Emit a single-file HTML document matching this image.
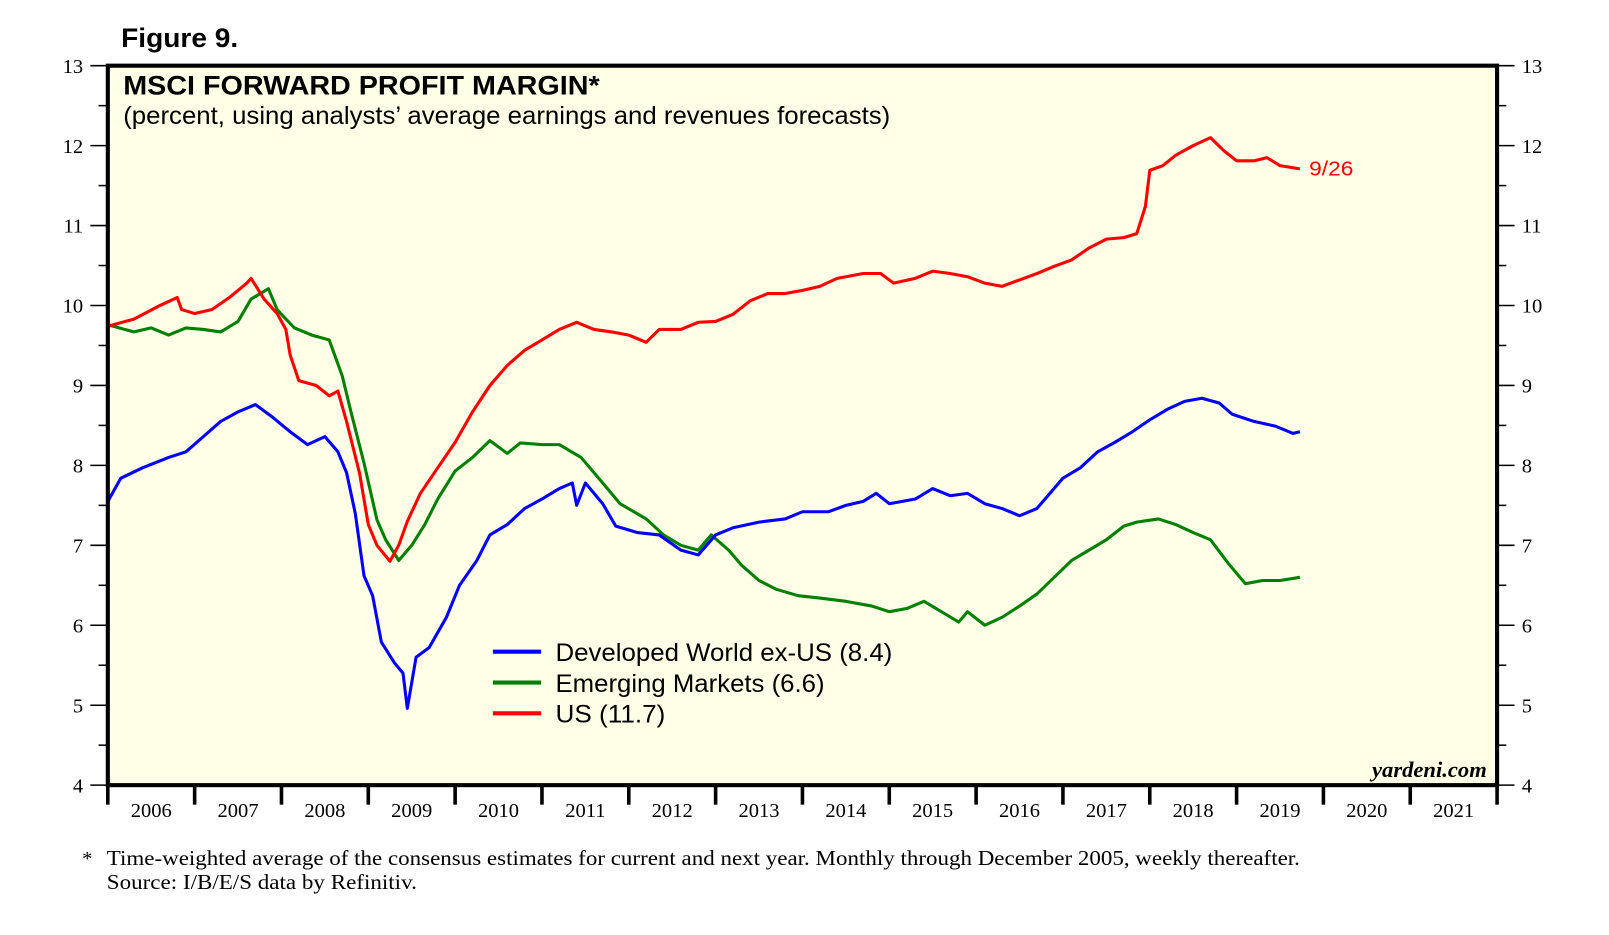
<!DOCTYPE html>
<html><head><meta charset="utf-8"><style>
html,body{margin:0;padding:0;background:#fff;}
svg{display:block;}
</style></head><body>
<svg id="chart" width="1609" height="935" viewBox="0 0 1567 911" preserveAspectRatio="none" xmlns="http://www.w3.org/2000/svg">
<text x="118" y="46" font-family="Liberation Sans, sans-serif" font-weight="bold" font-size="26" textLength="114" lengthAdjust="spacingAndGlyphs">Figure 9.</text>
<rect x="105" y="64" width="1353" height="701" fill="#fffee6"/>
<g id="axes"></g>
<g id="series"></g>
<rect x="105" y="64" width="1353" height="701" fill="none" stroke="#000" stroke-width="4"/>
<text x="120" y="92" font-family="Liberation Sans, sans-serif" font-weight="bold" font-size="26" textLength="464" lengthAdjust="spacingAndGlyphs">MSCI FORWARD PROFIT MARGIN*</text>
<text x="120" y="121" font-family="Liberation Sans, sans-serif" font-size="24" textLength="747" lengthAdjust="spacingAndGlyphs">(percent, using analysts’ average earnings and revenues forecasts)</text>
<text x="1275" y="171" fill="#ff0000" font-family="Liberation Sans, sans-serif" font-size="20" textLength="43" lengthAdjust="spacingAndGlyphs">9/26</text>
<g font-family="Liberation Sans, sans-serif" font-size="24">
<line x1="480" y1="635" x2="527" y2="635" stroke="#0000ff" stroke-width="4"/>
<text x="541" y="644" textLength="328" lengthAdjust="spacingAndGlyphs">Developed World ex-US (8.4)</text>
<line x1="480" y1="665" x2="527" y2="665" stroke="#008000" stroke-width="4"/>
<text x="541" y="674" textLength="262" lengthAdjust="spacingAndGlyphs">Emerging Markets (6.6)</text>
<line x1="480" y1="695" x2="527" y2="695" stroke="#ff0000" stroke-width="4"/>
<text x="541" y="704" textLength="107" lengthAdjust="spacingAndGlyphs">US (11.7)</text>
</g>
<text x="1448" y="757" text-anchor="end" font-family="Liberation Serif, serif" font-style="italic" font-weight="bold" font-size="22">yardeni.com</text>
<text x="80" y="843" font-family="Liberation Serif, serif" font-size="20">*</text>
<text x="104" y="843" font-family="Liberation Serif, serif" font-size="21" textLength="1162" lengthAdjust="spacingAndGlyphs">Time-weighted average of the consensus estimates for current and next year. Monthly through December 2005, weekly thereafter.</text>
<text x="104" y="866" font-family="Liberation Serif, serif" font-size="21" textLength="302" lengthAdjust="spacingAndGlyphs">Source: I/B/E/S data by Refinitiv.</text>
</svg>
<script>
const yTicks = [4,5,6,7,8,9,10,11,12,13];
const years = [2006,2007,2008,2009,2010,2011,2012,2013,2014,2015,2016,2017,2018,2019,2020,2021];
const usT = [2006.0,2006.3,2006.6,2006.8,2006.85,2007.0,2007.2,2007.4,2007.6,2007.65,2007.8,2007.95,2008.05,2008.1,2008.2,2008.4,2008.55,2008.65,2008.75,2008.9,2009.0,2009.1,2009.25,2009.35,2009.45,2009.6,2009.8,2010.0,2010.2,2010.4,2010.6,2010.8,2011.0,2011.2,2011.4,2011.6,2011.8,2012.0,2012.2,2012.35,2012.6,2012.8,2013.0,2013.2,2013.4,2013.6,2013.8,2014.0,2014.2,2014.4,2014.7,2014.9,2015.05,2015.3,2015.5,2015.7,2015.9,2016.1,2016.3,2016.5,2016.7,2016.9,2017.1,2017.3,2017.5,2017.7,2017.85,2017.95,2018.0,2018.15,2018.3,2018.5,2018.7,2018.85,2019.0,2019.2,2019.35,2019.5,2019.73];
const usV = [9.74,9.83,10.0,10.1,9.95,9.9,9.95,10.1,10.28,10.34,10.08,9.9,9.7,9.38,9.06,9.0,8.87,8.93,8.55,7.9,7.26,7.0,6.8,7.0,7.3,7.65,7.97,8.29,8.67,9.0,9.25,9.44,9.57,9.7,9.79,9.7,9.67,9.63,9.54,9.7,9.7,9.79,9.8,9.89,10.06,10.15,10.15,10.19,10.24,10.34,10.4,10.4,10.28,10.34,10.43,10.4,10.36,10.28,10.24,10.32,10.4,10.49,10.57,10.72,10.83,10.85,10.9,11.24,11.69,11.75,11.88,12.0,12.1,11.94,11.81,11.81,11.85,11.75,11.71];
const emT = [2006.0,2006.3,2006.5,2006.7,2006.9,2007.1,2007.3,2007.5,2007.65,2007.85,2007.95,2008.05,2008.15,2008.35,2008.55,2008.7,2008.8,2008.95,2009.1,2009.2,2009.35,2009.5,2009.65,2009.8,2010.0,2010.2,2010.4,2010.6,2010.75,2011.0,2011.2,2011.45,2011.7,2011.9,2012.2,2012.4,2012.6,2012.8,2012.95,2013.15,2013.3,2013.5,2013.7,2013.95,2014.2,2014.5,2014.8,2015.0,2015.2,2015.4,2015.6,2015.8,2015.9,2016.1,2016.3,2016.5,2016.7,2016.9,2017.1,2017.3,2017.5,2017.7,2017.85,2018.1,2018.3,2018.5,2018.7,2018.9,2019.1,2019.3,2019.5,2019.73];
const emV = [9.76,9.67,9.72,9.63,9.72,9.7,9.67,9.8,10.08,10.21,9.95,9.83,9.72,9.63,9.57,9.12,8.67,8.03,7.32,7.07,6.81,7.0,7.26,7.58,7.93,8.1,8.31,8.15,8.28,8.26,8.26,8.1,7.78,7.52,7.33,7.13,7.0,6.94,7.13,6.94,6.75,6.56,6.45,6.37,6.34,6.3,6.24,6.17,6.21,6.3,6.17,6.04,6.17,6.0,6.1,6.24,6.39,6.6,6.81,6.94,7.07,7.24,7.29,7.33,7.26,7.16,7.07,6.78,6.52,6.56,6.56,6.6];
const dwT = [2006.0,2006.15,2006.4,2006.7,2006.9,2007.1,2007.3,2007.5,2007.7,2007.9,2008.1,2008.3,2008.5,2008.65,2008.75,2008.85,2008.95,2009.05,2009.15,2009.3,2009.4,2009.45,2009.55,2009.7,2009.9,2010.05,2010.25,2010.4,2010.6,2010.8,2011.0,2011.2,2011.35,2011.4,2011.5,2011.7,2011.85,2012.1,2012.35,2012.6,2012.8,2013.0,2013.2,2013.5,2013.8,2014.0,2014.3,2014.5,2014.7,2014.85,2015.0,2015.3,2015.5,2015.7,2015.9,2016.1,2016.3,2016.5,2016.7,2016.85,2017.0,2017.2,2017.4,2017.6,2017.8,2018.0,2018.2,2018.4,2018.6,2018.8,2018.95,2019.2,2019.45,2019.65,2019.73];
const dwV = [7.55,7.84,7.97,8.1,8.17,8.36,8.55,8.67,8.76,8.6,8.42,8.26,8.36,8.17,7.91,7.4,6.62,6.37,5.79,5.53,5.4,4.96,5.6,5.72,6.1,6.5,6.81,7.13,7.26,7.46,7.58,7.71,7.78,7.5,7.78,7.52,7.24,7.16,7.13,6.94,6.88,7.13,7.22,7.29,7.33,7.42,7.42,7.5,7.55,7.65,7.52,7.58,7.71,7.62,7.65,7.52,7.46,7.37,7.46,7.65,7.84,7.97,8.17,8.29,8.42,8.57,8.7,8.8,8.84,8.78,8.64,8.55,8.49,8.4,8.42];

const X0=105, X1=1458, Y0=64, Y1=765;
function xs(t){return X0+(t-2006)/16*(X1-X0);}
function ys(v){return Y1-(v-4)/9*(Y1-Y0);}
const NS="http://www.w3.org/2000/svg";
const axes=document.getElementById('axes');
function mk(tag,attrs,parent){const e=document.createElementNS(NS,tag);for(const k in attrs)e.setAttribute(k,attrs[k]);parent.appendChild(e);return e;}
yTicks.forEach((v,i)=>{
  const y=ys(v);
  let l=mk('line',{x1:88,y1:y,x2:105,y2:y,stroke:'#000','stroke-width':1.5},axes);
  
  
  let r=mk('line',{x1:1458,y1:y,x2:1475,y2:y,stroke:'#000','stroke-width':1.5},axes);
  
  
  if(i<yTicks.length-1){
    const ym=ys(v+0.5);
    let a=mk('line',{x1:96,y1:ym,x2:105,y2:ym,stroke:'#000','stroke-width':1.5},axes);
    
    
    let b=mk('line',{x1:1458,y1:ym,x2:1467,y2:ym,stroke:'#000','stroke-width':1.5},axes);
    
    
  }
  let tl=mk('text',{x:81,y:y+7,'text-anchor':'end','font-family':'Liberation Serif, serif','font-size':20},axes);
  tl.textContent=v;
  
  
  let tr=mk('text',{x:1482,y:y+7,'font-family':'Liberation Serif, serif','font-size':20},axes);
  tr.textContent=v;
  
  
});
for(let i=0;i<=years.length;i++){
  const x=xs(2006+i);
  let t=mk('line',{x1:x,y1:765,x2:x,y2:784,stroke:'#000','stroke-width':3.5},axes);
  
  
}
years.forEach(yr=>{
  let t=mk('text',{x:xs(yr+0.5),y:796,'text-anchor':'middle','font-family':'Liberation Serif, serif','font-size':20},axes);
  t.textContent=yr;
  
  
});
const g=document.getElementById('series');
function line(T,V,color,name){
  const d=T.map((t,i)=>(i?'L':'M')+xs(t).toFixed(1)+','+ys(V[i]).toFixed(1)).join('');
  const p=mk('path',{d:d,fill:'none',stroke:color,'stroke-width':3,'stroke-linejoin':'round'},g);
  
  
}
line(emT,emV,'#008000','line-emerging-markets');
line(usT,usV,'#ff0000','line-us');
line(dwT,dwV,'#0000ff','line-developed-ex-us');
</script>
</body></html>
